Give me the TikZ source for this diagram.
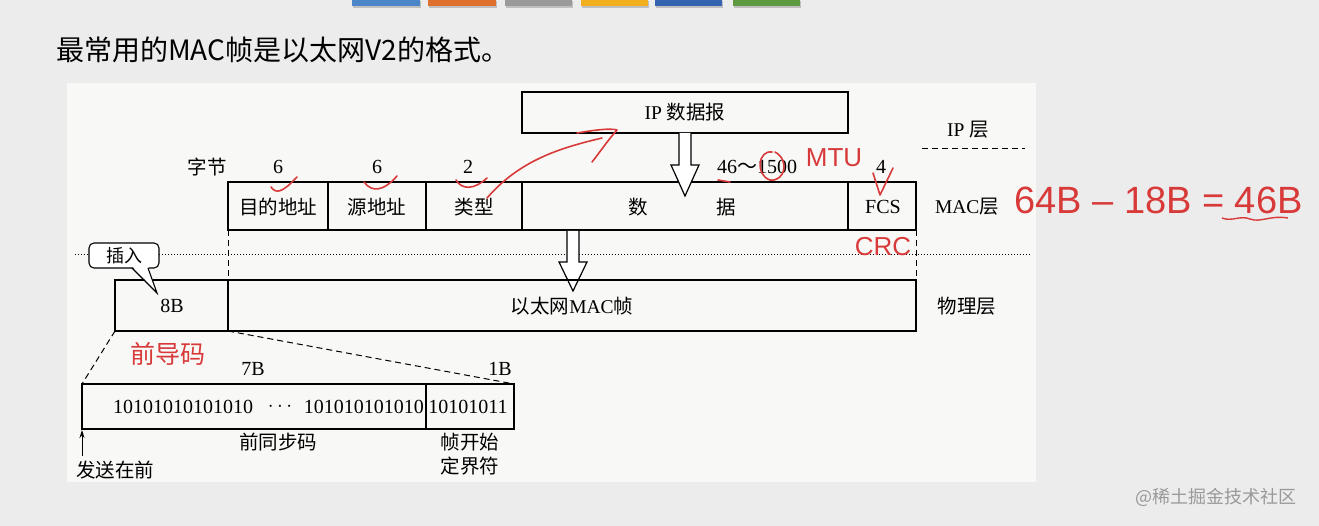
\documentclass[tikz,border=0pt]{standalone}
\usepackage{fontspec}
\setmainfont{Liberation Serif}
\newfontfamily\cjk{Noto Sans CJK SC}
\newfontfamily\hand{Liberation Sans}
\usetikzlibrary{arrows.meta}
\definecolor{slidebg}{HTML}{ECECEC}
\definecolor{panel}{HTML}{F8F8F7}
\definecolor{pen}{HTML}{D83A3A}
\definecolor{tabA}{HTML}{4A86C8}
\definecolor{tabB}{HTML}{E0702E}
\definecolor{tabC}{HTML}{9A9A9A}
\definecolor{tabD}{HTML}{F2B01E}
\definecolor{tabE}{HTML}{3463B0}
\definecolor{tabF}{HTML}{5E9A42}
\tikzset{
  lbl/.style={inner sep=0pt,font=\fontsize{19.5}{22}\selectfont\cjk},
  num/.style={inner sep=0pt,font=\fontsize{20}{22}\selectfont},
  cell/.style={draw=black,line width=1.3pt},
  dashln/.style={dashed,line width=1pt,dash pattern=on 6pt off 4pt},
  penln/.style={pen,line width=1.6pt,line cap=round,line join=round},
  handtxt/.style={pen,inner sep=0pt,font=\hand\itshape},
  hollow/.style={draw=black,fill=white,line width=1.2pt}
}
\begin{document}
\begin{tikzpicture}[x=1pt,y=-1pt]
\useasboundingbox (0,0) rectangle (1319,526);
\fill[slidebg] (0,0) rectangle (1319,526);
\fill[panel] (67,83) rectangle (1036,482);
% tabs
\foreach \a/\b/\c in {352/420/tabA,428/496/tabB,505/572/tabC,581/648/tabD,655/722/tabE,733/800/tabF}{
  \fill[black!25] (\a+1,1) rectangle (\b+1,8);
  \fill[\c] (\a,0) rectangle (\b,6);
}
% title
\node[anchor=west,inner sep=0pt,font=\fontsize{28}{30}\selectfont\cjk] (title) at (56,50) {最常用的MAC帧是以太网V2的格式。};
% IP datagram
\node[cell,minimum width=326pt,minimum height=41pt,inner sep=0pt,font=\fontsize{19.5}{22}\selectfont] (ip) at (685,112.5) {IP \cjk 数据报};
\node[lbl] (iplayer) at (968,130) {\rmfamily IP \cjk 层};
\coordinate (ipd1) at (922,149); \coordinate (ipd2) at (1025,149);
\draw[dashln] (ipd1) -- (ipd2);
% byte labels
\node[lbl] (zijie) at (207,167) {字节};
\node[num] (n1) at (278,167) {6};
\node[num] (n2) at (377,167) {6};
\node[num] (n3) at (468,167) {2};
\node[num] (n4) at (757,167) {46{\cjk\char"FF5E}1500};
\node[num] (n5) at (881,167) {4};
% MAC row
\coordinate (m0) at (228,182); \coordinate (m1) at (916,230);
\draw[cell] (m0) rectangle (m1);
\foreach \x in {328,426,522,848} \draw[cell] (\x,182) -- (\x,230);
\node[lbl] (dst) at (278,207) {目的地址};
\node[lbl] (src) at (377,207) {源地址};
\node[lbl] (typ) at (474,207) {类型};
\node[lbl] (d1) at (638,207) {数};
\node[lbl] (d2) at (726,207) {据};
\node[num] (fcs) at (883,207) {FCS};
\node[lbl] (maclayer) at (967,207) {\rmfamily MAC\cjk 层};
% hollow arrow 1
\draw[hollow] (679,133) -- (679,165) -- (671,165) -- (685,196) -- (699,165) -- (691,165) -- (691,133);
% dotted line
\coordinate (dl1) at (75,255); \coordinate (dl2) at (1030,255);
\draw[dotted,line width=1pt] (dl1) -- (dl2);
% dashed verticals
\draw[dashln] (228,230) -- (228,280);
\draw[dashln] (916,230) -- (916,280);
% hollow arrow 2
\draw[hollow] (567,231) -- (567,262) -- (559,262) -- (573,291) -- (587,262) -- (579,262) -- (579,231);
% physical row
\coordinate (p0) at (115,280); \coordinate (p1) at (916,331);
\draw[cell] (p0) rectangle (p1);
\draw[cell] (228,280) -- (228,331);
\node[num] (eightb) at (172,306) {8B};
\node[lbl] (ethframe) at (572,306) {以太网\rmfamily MAC\cjk 帧};
\node[lbl] (phylayer) at (967,306) {物理层};
% callout
\node[draw=black,line width=1.1pt,fill=white,rounded corners=5pt,minimum width=70pt,minimum height=25pt,inner sep=0pt,font=\fontsize{18}{20}\selectfont\cjk] (ins) at (124,255.5) {插入};
\coordinate (insTip) at (157,293);
\fill[white] (132,266) -- (insTip) -- (148,266) -- cycle;
\draw[line width=1.1pt] (132,268) -- (insTip) -- (148,268);
% preamble box
\coordinate (b0) at (82,384); \coordinate (b1) at (514,429);
\draw[cell] (b0) rectangle (b1);
\draw[cell] (426,384) -- (426,429);
\draw[dashln] (115,331) -- (b0);
\draw[dashln] (228,331) -- (514,384);
\node[inner sep=0pt,pen,font=\fontsize{25}{27}\selectfont\cjk] (qdm) at (168,354) {前导码};
\node[num] (sevenb) at (253,369) {7B};
\node[num] (oneb) at (500,369) {1B};
\node[num,anchor=west] (bits1) at (113,407) {10101010101010};
\node[num] (dots) at (280,407) {$\cdots$};
\node[num,anchor=east] (bits2) at (424,407) {101010101010};
\node[num] (sfdbits) at (468,407) {10101011};
\node[lbl] (qtbm) at (278,442) {前同步码};
\node[lbl] (zks) at (470,442) {帧开始};
\node[lbl] (djf) at (470,466) {定界符};
\node[lbl] (fszq) at (115,470) {发送在前};
\coordinate (sendbase) at (82,456);
\draw[-{Stealth[length=8pt,width=5pt]},line width=1pt] (sendbase) -- (82,430);
% watermark
\node[anchor=west,inner sep=0pt,text=black!40,font=\fontsize{18}{20}\selectfont\cjk] (wm) at (1135,497) {@稀土掘金技术社区};
% red pen annotations
\draw[penln] (271,187) .. controls (276,194) and (282,193) .. (297,177);
\draw[penln] (364,182) .. controls (372,193) and (384,191) .. (397,176);
\draw[penln] (456,180) .. controls (462,190) and (474,190) .. (487,178);
\draw[penln] (487,198) .. controls (520,160) and (560,148) .. (602,138);
\draw[penln] (577,133) .. controls (595,130) and (610,128) .. (617,130) .. controls (608,140) and (600,152) .. (592,162);
\draw[penln] (873,173) -- (880,195) -- (893,168);
\draw[penln] (772,152) .. controls (758,150) and (755,175) .. (770,180) .. controls (785,182) and (790,160) .. (775,152);
\draw[penln] (718,180) -- (730,182);
\node[handtxt,font=\fontsize{26}{28}\selectfont\hand] (mtu) at (834,158) {MTU};
\node[handtxt,font=\fontsize{26}{28}\selectfont\hand] (crc) at (883,247) {CRC};
\node[handtxt,anchor=west,font=\fontsize{38}{40}\selectfont\hand] (eq) at (1014,200) {64B {\textendash} 18B = 46B};
\draw[pen,line width=1.4pt] (1222,218) .. controls (1232,222) and (1240,215) .. (1250,219) .. controls (1260,223) and (1270,215) .. (1288,218);
\end{tikzpicture}
\end{document}
